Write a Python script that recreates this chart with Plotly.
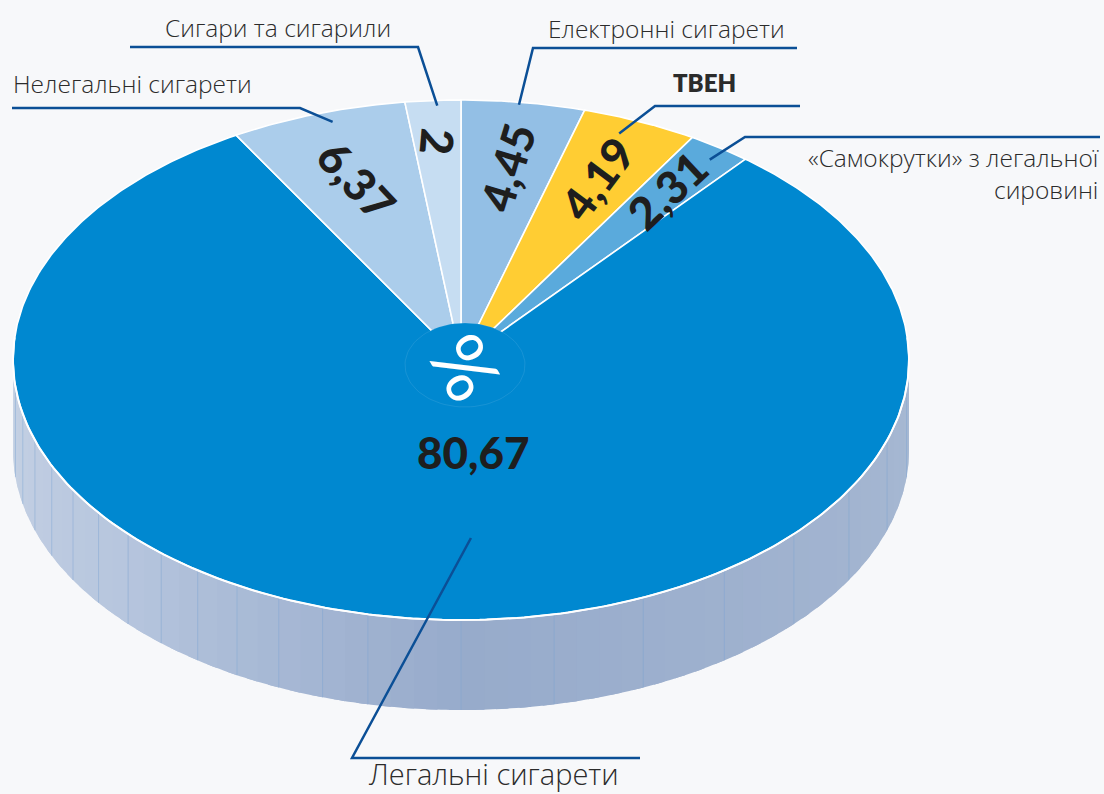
import numpy as np
import plotly.graph_objects as go

# ---------------- data ----------------
categories = ["Електронні сигарети", "ТВЕН", "«Самокрутки» з легальної<br>сировині",
              "Легальні сигарети", "Нелегальні сигарети", "Сигари та сигарили"]
values = [4.45, 4.19, 2.31, 80.67, 6.37, 2.00]
value_labels = ["4,45", "4,19", "2,31", "80,67", "6,37", "2"]
colors = ["#93bfe5", "#ffcd33", "#5aaadc", "#0088d0", "#abcdeb", "#c6ddf2"]

# ---------------- layout / geometry constants ----------------
W, H = 1104, 794
CX, CY, RX, RY, DEPTH = 461, 360, 448, 260, 90
BG = "#f7f8fa"
LINE_BLUE = "#0b4f96"
TXT = "#2b2b2b"
LABEL_FONT = "Open Sans, Lato, sans-serif"
NUM_FONT = "Lato, sans-serif"

# value-label placement (radius fraction, text angle)
label_r = [0.75, 0.76, 0.8, None, 0.73, 0.84]
label_angle = [-73, -53, -43, 0, 47, 95]
# leader anchors (radius fraction, angle offset)
leader_anchor = [(0.99, -0.5), (0.94, -1.5), (0.95, 0.5), (0.685, -6.5), (0.96, 1.3), (0.98, 0.5)]
# leader elbows: (far end, elbow)
leader_elbow = [((797, 48), (533, 48)), ((800, 106), (655, 106)), ((1100, 137), (745, 137)),
                ((640, 758), (352, 758)), ((12, 108), (300, 108)), ((130, 47), (418, 47))]
# category text placement: (x, y, xanchor, size, bold)
cat_pos = [(666, 28, "center", 24.5, False), (704, 82, "center", 24, True),
           (1101, 173, "right", 24.5, False), (493, 773, "center", 29, False),
           (11, 83, "left", 24.5, False), (278, 27, "center", 24.5, False)]


def rim(theta_deg, r=1.0, dz=0.0):
    t = np.radians(theta_deg)
    return CX + r * RX * np.sin(t), CY - r * RY * np.cos(t) + dz


fig = go.Figure()

# ---------------- side (front wall) ----------------
side_stops = [(90, (167, 185, 211)), (120, (162, 180, 208)), (150, (157, 176, 206)),
              (180, (151, 171, 203)), (200, (164, 182, 211)), (230, (183, 198, 222)),
              (270, (198, 210, 228))]


def side_color(a):
    xs = [s[0] for s in side_stops]
    c = [np.interp(a, xs, [s[1][k] for s in side_stops]) for k in range(3)]
    return "rgb(%d,%d,%d)" % tuple(int(round(v)) for v in c)


step = 3
bounds = np.arange(90, 270 + step, step)
for a0 in bounds[:-1]:
    a1 = min(a0 + step + 1.5, 270)
    th = np.linspace(a0, a1, 8)
    xt, yt = rim(th)
    xb, yb = rim(th[::-1], dz=DEPTH)
    col = side_color(a0 + step / 2)
    fig.add_trace(go.Scatter(x=np.concatenate([xt, xb]), y=np.concatenate([yt, yb]),
                             fill="toself", fillcolor=col,
                             mode="none", hoverinfo="skip", showlegend=False))
sep_x, sep_y = [], []
for a in bounds[1:-1]:
    if (a >= 195 and a % 6 == 0) or (a < 195 and a % 12 == 0):
        x0, y0 = rim(a)
        x1, y1 = rim(a, dz=DEPTH)
        sep_x += [x0, x1, None]
        sep_y += [y0, y1, None]
fig.add_trace(go.Scatter(x=sep_x, y=sep_y, mode="lines",
                         line=dict(width=1, color="rgba(125,165,210,0.45)"),
                         hoverinfo="skip", showlegend=False))

# ---------------- top slices ----------------
total = sum(values)
starts = np.concatenate([[0], np.cumsum(values)[:-1]]) / total * 360
ends = np.cumsum(values) / total * 360
mids = (starts + ends) / 2
for i, v in enumerate(values):
    th = np.linspace(starts[i], ends[i], max(int((ends[i] - starts[i]) * 2), 8))
    xs, ys = rim(th)
    fig.add_trace(go.Scatter(x=np.concatenate([[CX], xs, [CX]]), y=np.concatenate([[CY], ys, [CY]]),
                             fill="toself", fillcolor=colors[i], mode="lines",
                             line=dict(width=1.6, color="white"), name=categories[i],
                             hoverinfo="skip", showlegend=False))

# white rim on the front edge
th = np.linspace(85, 275, 200)
xs, ys = rim(th)
fig.add_trace(go.Scatter(x=xs, y=ys, mode="lines", line=dict(width=2, color="white"),
                         hoverinfo="skip", showlegend=False))

# centre disc under the % sign
th = np.linspace(0, 360, 100)
bx = CX + 4 + 60 * np.sin(np.radians(th))
by = CY + 5 - 42 * np.cos(np.radians(th))
fig.add_trace(go.Scatter(x=bx, y=by, fill="toself", fillcolor=colors[3], mode="lines",
                         line=dict(width=0.8, color="rgba(255,255,255,0.12)"),
                         hoverinfo="skip", showlegend=False))

# ---------------- leader lines ----------------
for i in range(len(values)):
    r, da = leader_anchor[i]
    ax, ay = rim(mids[i] + da, r)
    (fx, fy), (ex, ey) = leader_elbow[i]
    fig.add_trace(go.Scatter(x=[fx, ex, ax], y=[fy, ey, ay], mode="lines",
                             line=dict(width=2.5, color=LINE_BLUE),
                             hoverinfo="skip", showlegend=False))

# ---------------- annotations ----------------
ann = []
for i in range(len(values)):
    if label_r[i] is None:
        continue
    x, y = rim(mids[i], label_r[i])
    ann.append(dict(x=x, y=y, xref="x", yref="y", text=value_labels[i],
                    showarrow=False, textangle=label_angle[i],
                    font=dict(family=NUM_FONT, size=45, color="#1e1e1e", weight=900)))
ann.append(dict(x=CX + 12, y=CY + 92, xref="x", yref="y", text=value_labels[3],
                showarrow=False, font=dict(family=NUM_FONT, size=44, color="#1e1e1e", weight=900)))
ann.append(dict(x=CX + 6, y=CY + 6, xref="x", yref="y", text="%", showarrow=False, textangle=60,
                font=dict(family="Lato, sans-serif", size=76, color="white")))
for i, (x, y, xa, size, bold) in enumerate(cat_pos):
    ann.append(dict(x=x, y=y, xref="x", yref="y", text=categories[i], showarrow=False, xanchor=xa,
                    yanchor="middle", align=xa if xa != "center" else "center",
                    font=dict(family=LABEL_FONT if not bold else NUM_FONT, size=size, color=TXT,
                              weight=800 if bold else 300)))

fig.update_layout(
    width=W, height=H, autosize=False,
    margin=dict(l=0, r=0, t=0, b=0),
    paper_bgcolor=BG, plot_bgcolor=BG,
    xaxis=dict(range=[0, W], visible=False, fixedrange=True),
    yaxis=dict(range=[H, 0], visible=False, fixedrange=True),
    annotations=ann, showlegend=False,
)

fig.write_html("out.html", config={"displayModeBar": False},
               post_script="document.body.style.margin='0';")
